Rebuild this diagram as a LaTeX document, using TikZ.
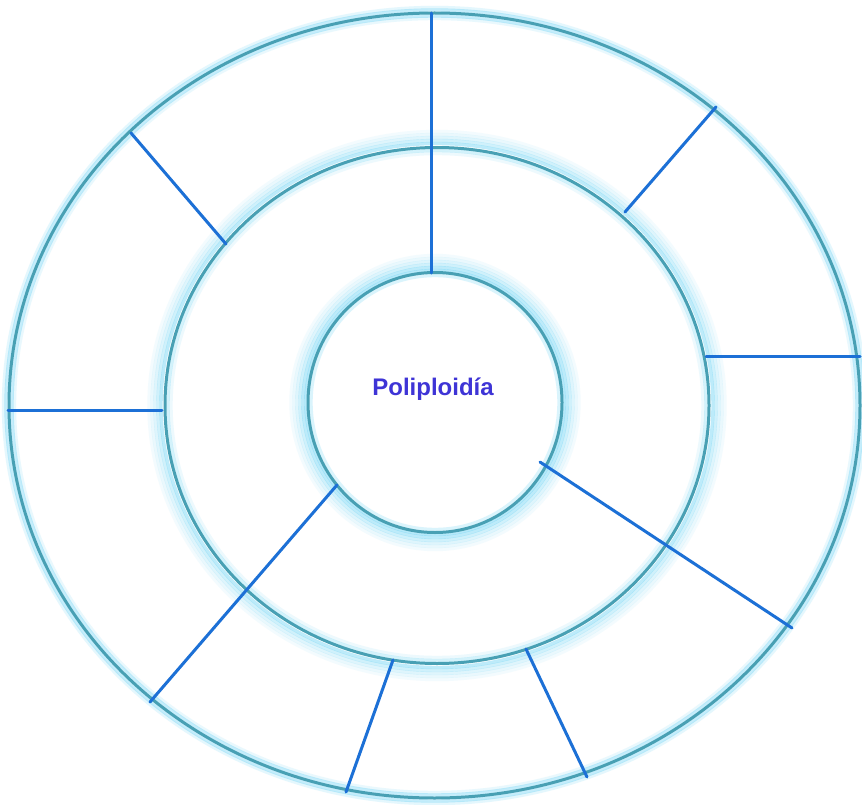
\documentclass[tikz,border=0pt]{standalone}
\usepackage{fontspec}
\setmainfont{Liberation Sans}
\definecolor{ringc}{RGB}{72,160,180}
\definecolor{glowc}{RGB}{110,212,245}
\definecolor{linec}{RGB}{28,112,214}
\definecolor{textc}{RGB}{62,52,214}
\tikzset{
  ring/.style={draw=ringc, line width=3pt},
  spoke/.style={draw=linec, line width=3pt, line cap=round},
  glow/.style={draw=glowc, line width=3.4pt}
}
\newcommand\myglow[5]{% cx cy rx ry offset/opacity list
  \foreach \d/\o in {#5} {
    \draw[glow, opacity=\o] (#1,#2) ellipse [x radius={(#3+\d)*1pt}, y radius={(#4+\d)*1pt}];
  }
}
\begin{document}
\begin{tikzpicture}[x=1pt,y=-1pt]
\useasboundingbox[fill=white] (0,0) rectangle (862,805);
% glows
\myglow{434.5}{405.5}{425.5}{392.5}{3/0.4,-3/0.4,5.5/0.18,-5.5/0.15}
\myglow{437}{405.5}{272}{258}{16/0.08,13/0.14,10/0.22,7/0.32,4/0.45,-3/0.3,-6/0.12}
\myglow{435}{402.5}{127}{130}{17/0.08,14/0.14,11/0.22,8/0.32,5/0.45,2/0.5,-3/0.25}
% rings
\draw[ring] (434.5,405.5) ellipse [x radius=425.5pt, y radius=392.5pt];
\draw[ring] (437,405.5) ellipse [x radius=272pt, y radius=258pt];
\draw[ring] (435,402.5) ellipse [x radius=127pt, y radius=130pt];
% spoke endpoints
\coordinate (a1) at (431,13);   \coordinate (a2) at (431,273);
\coordinate (b1) at (131,133);  \coordinate (b2) at (226,244);
\coordinate (c1) at (716,107);  \coordinate (c2) at (625,212);
\coordinate (d1) at (706,356);  \coordinate (d2) at (860,356);
\coordinate (e1) at (8,410);    \coordinate (e2) at (162,410);
\coordinate (f1) at (540,462);  \coordinate (f2) at (792,628);
\coordinate (g1) at (337,485);  \coordinate (g2) at (150,702);
\coordinate (h1) at (393,660);  \coordinate (h2) at (346,792);
\coordinate (i1) at (526,649);  \coordinate (i2) at (587,777);
\foreach \s in {a,b,c,d,e,f,g,h,i} {\draw[spoke] (\s1) -- (\s2);}
\node[text=textc, font=\bfseries\fontsize{24}{28}\selectfont] (center) at (433,389) {Poliploidía};
\end{tikzpicture}
\end{document}
